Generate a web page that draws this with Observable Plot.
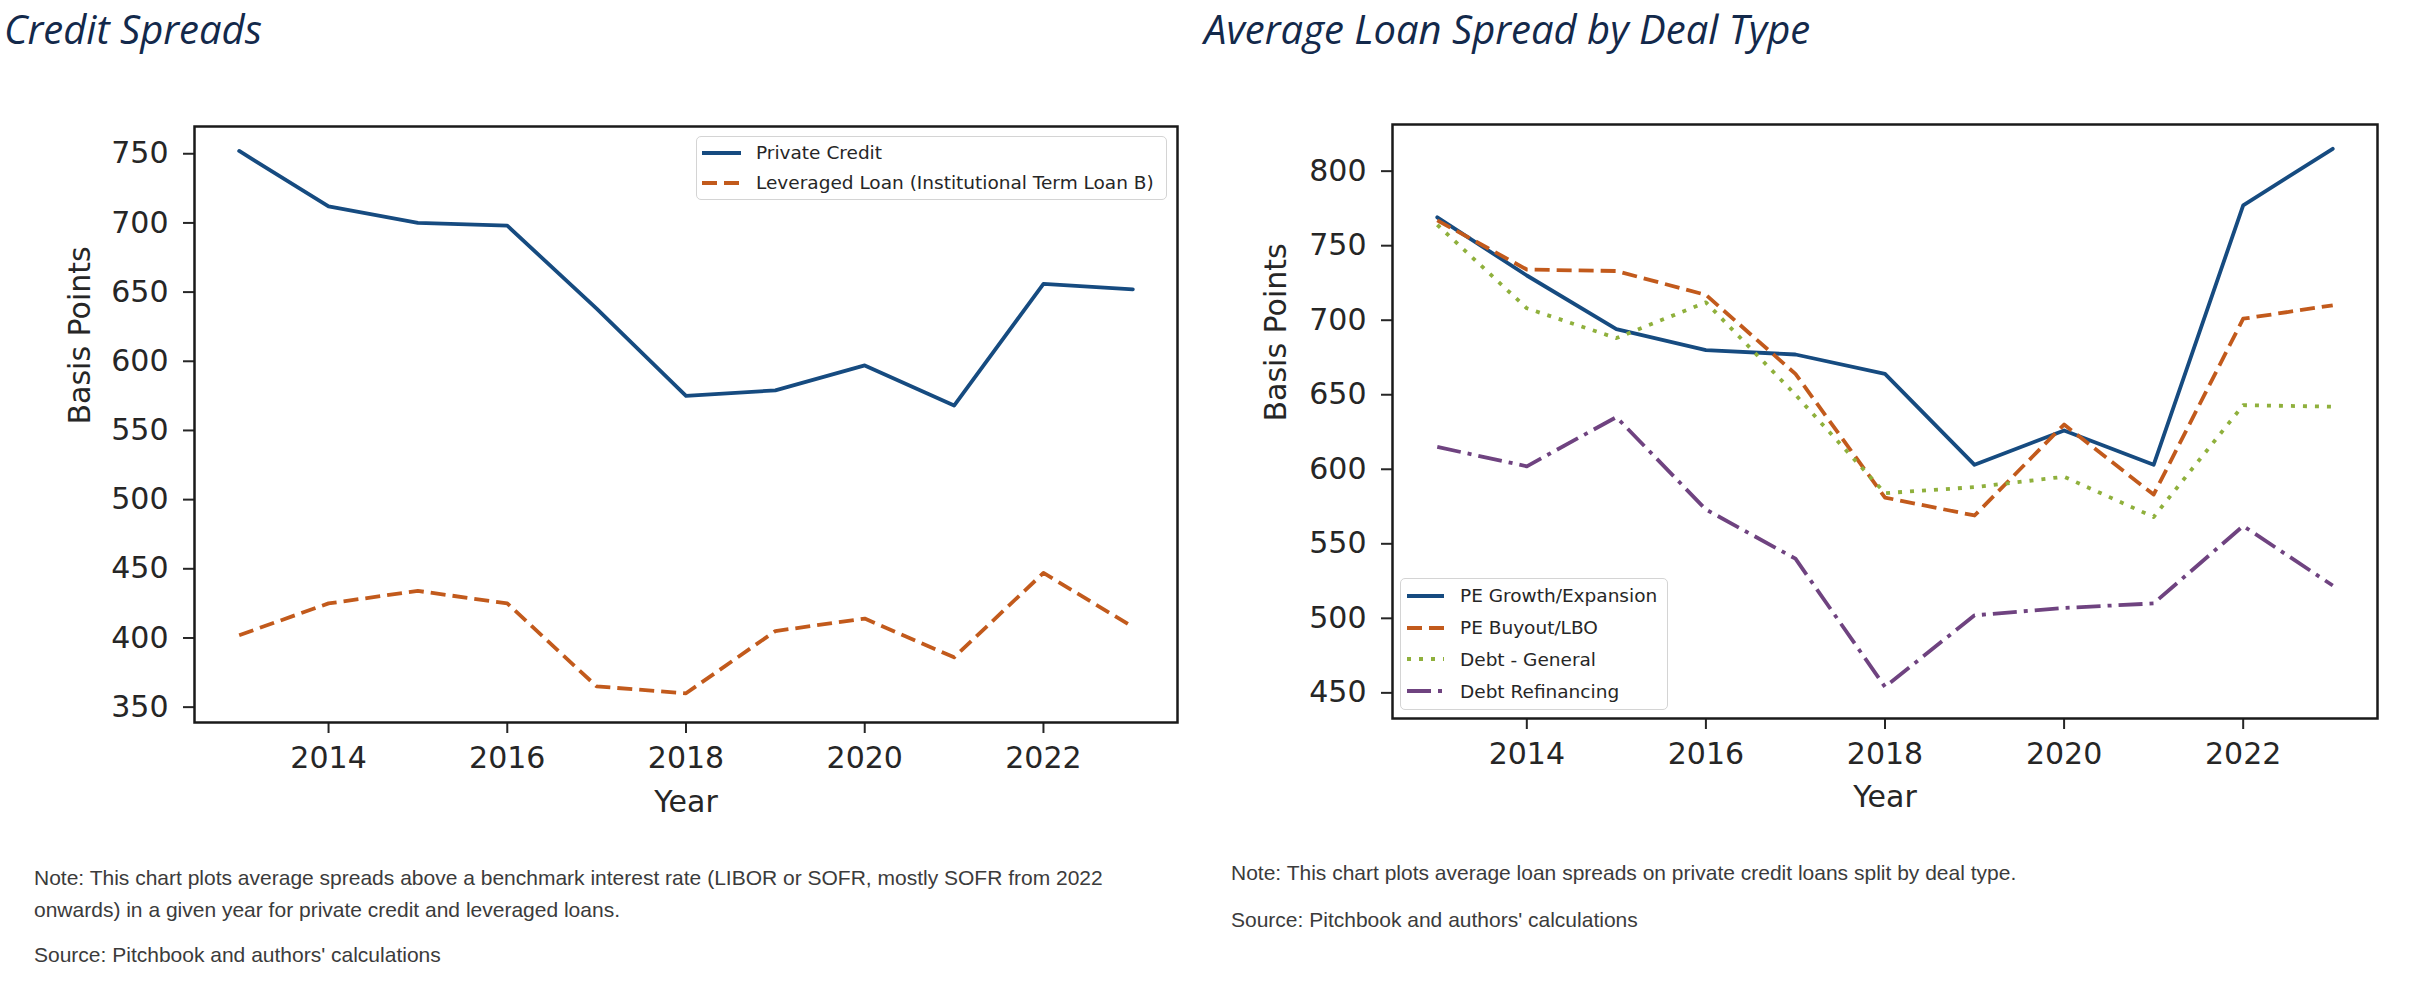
<!DOCTYPE html>
<html>
<head>
<meta charset="utf-8">
<script src="https://cdn.jsdelivr.net/npm/d3@7"></script>
<script src="https://cdn.jsdelivr.net/npm/@observablehq/plot@0.6"></script>
<style>
  body { margin: 0; background: #fff; }
  #page { position: relative; width: 2428px; height: 986px; overflow: hidden; background: #fff; }
  .title { position: absolute; font-family: "Open Sans", sans-serif; font-style: italic; font-size: 40px; color: #13294b; white-space: nowrap; line-height: normal; }
  .note { position: absolute; font-family: "Liberation Sans", Arial, sans-serif; font-size: 21px; color: #3b3b3b; white-space: nowrap; line-height: 32px; }
  .chart { position: absolute; }
  .legend { position: absolute; box-sizing: border-box; background: rgba(255,255,255,0.85); border: 1.5px solid #d4d4d4; border-radius: 5px; font-family: "DejaVu Sans", sans-serif; font-size: 18.5px; color: #262626; }
  .legend .row { position: absolute; height: 24px; display: flex; align-items: center; white-space: nowrap; }
  .legend svg { display: block; }
</style>
</head>
<body>
<div id="page"></div>
<script>
// ---- Data ----
const years = [2013, 2014, 2015, 2016, 2017, 2018, 2019, 2020, 2021, 2022, 2023];

// Credit Spreads (basis points)
const privateCredit = [752, 712, 700, 698, 638, 575, 579, 597, 568, 656, 652];
const leveragedLoan = [402, 425, 434, 425, 365, 360, 405, 414, 386, 447, 408];

// Average Loan Spread by Deal Type (basis points)
const peGrowth    = [769, 730, 694, 680, 677, 664, 603, 626, 603, 777, 815];
const peBuyout    = [767, 734, 733, 717, 664, 581, 569, 630, 583, 701, 710];
const debtGeneral = [764, 708, 688, 712, 650, 584, 588, 595, 568, 643, 642];
const debtRefi    = [615, 602, 635, 573, 540, 454, 502, 507, 510, 562, 522];

// Axis ticks
const xTicks = [2014, 2016, 2018, 2020, 2022];
const yTicksLeft = [350, 400, 450, 500, 550, 600, 650, 700, 750];
const yTicksRight = [450, 500, 550, 600, 650, 700, 750, 800];

// Text
const titleLeft = "Credit Spreads";
const titleRight = "Average Loan Spread by Deal Type";
const noteLeft = ["Note: This chart plots average spreads above a benchmark interest rate (LIBOR or SOFR, mostly SOFR from 2022", "onwards) in a given year for private credit and leveraged loans."];
const noteRight = ["Note: This chart plots average loan spreads on private credit loans split by deal type."];
const sourceText = "Source: Pitchbook and authors' calculations";

// Series styles
const leftSeries = [
  {name: "Private Credit", values: privateCredit, color: "#164b80", dash: null, cap: "round"},
  {name: "Leveraged Loan (Institutional Term Loan B)", values: leveragedLoan, color: "#c25a1c", dash: "15,7", cap: "butt"}
];
const rightSeries = [
  {name: "PE Growth/Expansion", values: peGrowth, color: "#164b80", dash: null, cap: "round"},
  {name: "PE Buyout/LBO", values: peBuyout, color: "#c25a1c", dash: "15,7", cap: "butt"},
  {name: "Debt - General", values: debtGeneral, color: "#8fb03c", dash: "4,8", cap: "butt"},
  {name: "Debt Refinancing", values: debtRefi, color: "#6f4380", dash: "24,7,4,7", cap: "butt"}
];

const page = document.getElementById("page");

function addDiv(cls, text, left, top) {
  const d = document.createElement("div");
  d.className = cls;
  d.style.left = left + "px";
  d.style.top = top + "px";
  d.textContent = text;
  page.appendChild(d);
  return d;
}

// Titles
addDiv("title", titleLeft, 4, 1);
addDiv("title", titleRight, 1204, 1);

function makeChart(series, opts) {
  const marks = [];
  for (const s of series) {
    const data = years.map((y, i) => ({year: y, value: s.values[i]}));
    marks.push(Plot.line(data, {
      x: "year", y: "value", stroke: s.color, strokeWidth: 3.8,
      strokeDasharray: s.dash || undefined, strokeLinecap: s.cap, strokeLinejoin: "round"
    }));
  }
  marks.push(Plot.axisX({ticks: xTicks, tickFormat: d => String(d), tickSize: 11, tickPadding: 13, strokeWidth: 2, fontSize: 30, label: null}));
  marks.push(Plot.axisY({ticks: opts.yTicks, tickFormat: d => String(d), tickSize: 11, tickPadding: 15, strokeWidth: 2, fontSize: 30, label: null}));
  marks.push(Plot.text(["Year"], {text: d => d, frameAnchor: "bottom", dy: opts.yearDy, lineAnchor: "middle", fontSize: 30}));
  marks.push(Plot.text(["Basis Points"], {text: d => d, frameAnchor: "left", dx: opts.bpDx, rotate: -90, lineAnchor: "middle", fontSize: 30}));
  marks.push(Plot.frame({stroke: "#1a1a1a", strokeWidth: 2.5}));
  return Plot.plot({
    width: opts.width, height: opts.height,
    marginLeft: opts.ml, marginRight: opts.mr, marginTop: opts.mt, marginBottom: opts.mb,
    x: {domain: [2012.5, 2023.5]},
    y: {domain: opts.yDomain},
    style: {fontFamily: "DejaVu Sans, sans-serif", fontSize: "30px", color: "#262626", background: "transparent", overflow: "visible"},
    marks
  });
}

const left = makeChart(leftSeries, {width: 1200, height: 760, ml: 194, mr: 23, mt: 46, mb: 118, yDomain: [338.9, 769.7], yTicks: yTicksLeft, yearDy: 80, bpDx: -114});
left.classList.add("chart");
left.style.left = "0px"; left.style.top = "80px";
page.appendChild(left);

const right = makeChart(rightSeries, {width: 1228, height: 760, ml: 192, mr: 51, mt: 44, mb: 122, yDomain: [432.8, 831.3], yTicks: yTicksRight, yearDy: 79, bpDx: -116});
right.classList.add("chart");
right.style.left = "1200px"; right.style.top = "80px";
page.appendChild(right);

// Legends (HTML overlay)
function makeLegend(series, box, rowCenters, sampleX, sampleW, textX) {
  const lg = document.createElement("div");
  lg.className = "legend";
  lg.style.left = box.left + "px"; lg.style.top = box.top + "px";
  lg.style.width = box.width + "px"; lg.style.height = box.height + "px";
  series.forEach((s, i) => {
    const row = document.createElement("div");
    row.className = "row";
    row.style.left = sampleX + "px";
    row.style.top = (rowCenters[i] - 12) + "px";
    const svgNS = "http://www.w3.org/2000/svg";
    const svg = document.createElementNS(svgNS, "svg");
    svg.setAttribute("width", sampleW); svg.setAttribute("height", 24);
    const ln = document.createElementNS(svgNS, "line");
    ln.setAttribute("x1", 0); ln.setAttribute("x2", sampleW);
    ln.setAttribute("y1", 12); ln.setAttribute("y2", 12);
    ln.setAttribute("stroke", s.color); ln.setAttribute("stroke-width", 3.8);
    if (s.dash) ln.setAttribute("stroke-dasharray", s.dash);
    ln.setAttribute("stroke-linecap", "butt");
    svg.appendChild(ln);
    row.appendChild(svg);
    const t = document.createElement("span");
    t.textContent = s.name;
    t.style.marginLeft = (textX - sampleX - sampleW) + "px";
    row.appendChild(t);
    lg.appendChild(row);
  });
  page.appendChild(lg);
}
makeLegend(leftSeries, {left: 696, top: 136, width: 471, height: 64}, [15.5, 45.5], 5, 39, 59);
makeLegend(rightSeries, {left: 1400, top: 578, width: 268, height: 132}, [16.5, 48.5, 80, 112], 6, 37, 59);

// Notes
const nl = addDiv("note", "", 34, 862);
nl.innerHTML = noteLeft.map(s => s.replace(/&/g, "&amp;")).join("<br>");
addDiv("note", sourceText, 34, 939);
addDiv("note", noteRight[0], 1231, 857);
addDiv("note", sourceText, 1231, 904);
</script>
</body>
</html>
